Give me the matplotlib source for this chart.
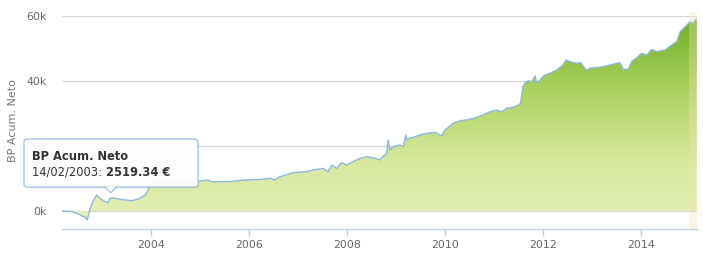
import numpy as np
import matplotlib
matplotlib.use("Agg")
import matplotlib.pyplot as plt
from matplotlib.colors import LinearSegmentedColormap
from matplotlib.patches import FancyBboxPatch, Polygon

# ---------------------------------------------------------------------------
# data (decimal years / euros)
# ---------------------------------------------------------------------------
years = [2002.18, 2002.39, 2002.65, 2002.70, 2002.76, 2002.81, 2002.89, 2002.96, 2003.03, 2003.12,
         2003.16, 2003.22, 2003.37, 2003.61, 2003.78, 2003.88, 2003.94, 2003.98, 2004.08, 2004.42,
         2004.76, 2004.90, 2005.16, 2005.24, 2005.57, 2005.92, 2006.26, 2006.43, 2006.53, 2006.63,
         2006.90, 2007.18, 2007.24, 2007.51, 2007.61, 2007.69, 2007.79, 2007.89, 2007.99, 2008.12,
         2008.27, 2008.40, 2008.57, 2008.67, 2008.73, 2008.81, 2008.84, 2008.88, 2008.94, 2009.08,
         2009.15, 2009.20, 2009.22, 2009.35, 2009.49, 2009.63, 2009.80, 2009.93, 2010.00, 2010.17,
         2010.31, 2010.44, 2010.58, 2010.68, 2010.78, 2010.92, 2011.06, 2011.16, 2011.26, 2011.39,
         2011.50, 2011.54, 2011.59, 2011.63, 2011.70, 2011.77, 2011.84, 2011.87, 2011.94, 2012.01,
         2012.14, 2012.28, 2012.41, 2012.47, 2012.55, 2012.69, 2012.77, 2012.88, 2012.96, 2013.16,
         2013.37, 2013.57, 2013.64, 2013.74, 2013.81, 2013.94, 2014.01, 2014.12, 2014.22, 2014.32,
         2014.49, 2014.63, 2014.73, 2014.80, 2014.87, 2014.94, 2015.00, 2015.07, 2015.10, 2015.14]

bp_acum = [0, -150, -1850, -2770, 920, 2860, 4920, 3910, 3170, 2519,
           3910, 4000, 3600, 3170, 3910, 4920, 6460, 8000, 8520, 8710,
           8520, 9020, 9540, 9020, 9020, 9540, 9750, 10060, 9540, 10550,
           11780, 12090, 12400, 13140, 12090, 14150, 13140, 14860, 14150, 15170,
           16220, 16710, 16220, 15690, 16710, 17750, 21850, 18770, 19780, 20310,
           19780, 23380, 22060, 22680, 23380, 23910, 24220, 23080, 24920, 26980,
           27780, 28000, 28520, 29020, 29540, 30550, 31080, 30550, 31600, 31910,
           32620, 33140, 38250, 39290, 40090, 39780, 41540, 39290, 40310, 41540,
           42370, 43380, 44920, 46460, 45940, 45450, 45630, 43380, 43910, 44220,
           44920, 45630, 43600, 43600, 45940, 47480, 48520, 48000, 49750, 49020,
           49540, 51080, 52090, 55170, 56220, 57230, 58250, 57750, 58770, 58990]

x_ticks = [2004, 2006, 2008, 2010, 2012, 2014]
y_ticks = [0, 20000, 40000, 60000]
y_labels = ["0k", "20k", "40k", "60k"]

series_name = "BP Acum. Neto"
tip_date = "14/02/2003"
tip_year = 2003.12
tip_value = 2519.34

# ---------------------------------------------------------------------------
W, H = 703, 256
LINE = "#8fb6e3"
GRID = "#d8d8d8"
AXIS = "#c0d0e0"
LABEL = "#666666"

x0, x1 = 2002.184, 2015.143
y0, y1 = -5540, 60000

fig = plt.figure(figsize=(W / 100, H / 100), dpi=100)
fig.patch.set_facecolor("white")
ax = fig.add_axes([62 / W, 1 - 229 / H, 635 / W, 213 / H])

xs = np.array(years)
ys = np.array(bp_acum, dtype=float)

# gridlines
for yt in y_ticks:
    ax.axhline(yt, color=GRID, lw=1, zorder=1)

# gradient fill under the curve (down to zero)
cmap = LinearSegmentedColormap.from_list("g", ["#e6f0bb", "#d6e89c", "#a9d05c", "#6aae26"])
grad = np.linspace(0, 1, 256).reshape(-1, 1)
im = ax.imshow(grad, cmap=cmap, origin="lower", aspect="auto",
               extent=[x0, x1, y0, y1], zorder=2)
poly = Polygon(np.vstack([[xs[0], 0], np.column_stack([xs, ys]), [xs[-1], 0]]),
               closed=True, transform=ax.transData, fc="none", ec="none")
ax.add_patch(poly)
im.set_clip_path(poly)
ax.set_xlim(x0, x1)
ax.set_ylim(y0, y1)

ax.plot(xs, ys, color=LINE, lw=1, zorder=3)

# pale hover band at the right end
ax.axvspan(2014.98, x1, ymin=0, ymax=1.02, color="#f3e4b0", alpha=0.35,
           lw=0, zorder=4, clip_on=False)

# axes styling
for s in ["left", "right", "top"]:
    ax.spines[s].set_visible(False)
ax.spines["bottom"].set_color(AXIS)
ax.spines["bottom"].set_linewidth(1)
ax.set_xticks(x_ticks)
ax.set_xticklabels([str(t) for t in x_ticks])
ax.set_yticks(y_ticks)
ax.set_yticklabels(y_labels)
ax.tick_params(axis="x", colors=AXIS, length=5, width=1, pad=3, labelsize=7.9,
               labelcolor=LABEL)
ax.tick_params(axis="y", length=0, pad=11, labelsize=7.9, labelcolor=LABEL)
ax.set_ylabel(series_name, color="#777777", fontsize=8)
ax.yaxis.set_label_coords(-44 / 635, (229 - 120.5) / 213)

# ---------------------------------------------------------------------------
# tooltip (overlay in pixel coordinates)
# ---------------------------------------------------------------------------
ov = fig.add_axes([0, 0, 1, 1], zorder=10)
ov.set_xlim(0, W)
ov.set_ylim(H, 0)
ov.axis("off")

px, py = ax.transData.transform((tip_year, tip_value))
py = H - py
tip_x, tip_y = px + 3, py - 10

bx, by, bw, bh = 24, 139, 174, 48
ov.add_patch(FancyBboxPatch((bx + 1.5, by + 1.5), bw, bh,
                            boxstyle="round,pad=0,rounding_size=3",
                            fc="black", ec="none", alpha=0.06))
ov.add_patch(FancyBboxPatch((bx, by), bw, bh, boxstyle="round,pad=0,rounding_size=3",
                            fc="white", ec="#9fc0e6", lw=1, alpha=0.93))
ov.add_patch(Polygon([[tip_x - 6, by + bh - 0.5], [tip_x, tip_y], [tip_x + 6, by + bh - 0.5]],
                     closed=False, fc="white", ec="#9fc0e6", lw=1))

ov.text(32, 156, series_name, fontsize=8.3, fontweight="bold", color="#333333",
        va="center", ha="left")
t2 = ov.text(32, 172, tip_date + ": ", fontsize=8.3, color="#333333",
             va="center", ha="left")
ov.annotate(f"{tip_value:.2f} €", xy=(1, 0.5), xycoords=t2, va="center", ha="left",
            fontsize=8.3, fontweight="bold", color="#333333")

fig.savefig("out.png", dpi=100)
